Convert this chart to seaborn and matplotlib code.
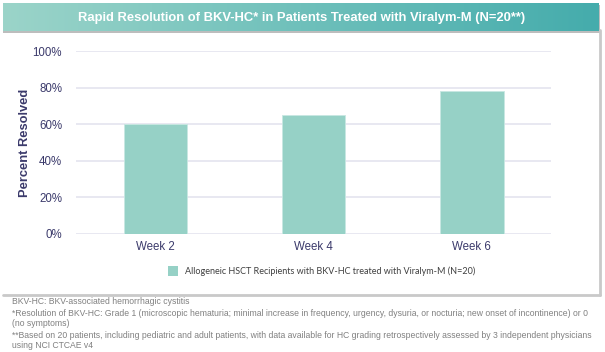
import numpy as np
import pandas as pd
import matplotlib.pyplot as plt
import matplotlib.colors as mcolors
from matplotlib.patches import Rectangle
import seaborn as sns

weeks = ["Week 2", "Week 4", "Week 6"]
pct_resolved = [0.60, 0.65, 0.78]
y_ticks = [0, 0.2, 0.4, 0.6, 0.8, 1.0]
y_tick_labels = ["0%", "20%", "40%", "60%", "80%", "100%"]

title = "Rapid Resolution of BKV-HC* in Patients Treated with Viralym-M (N=20**)"
legend_label = "Allogeneic HSCT Recipients with BKV-HC treated with Viralym-M (N=20)"
footnotes = [
    "BKV-HC: BKV-associated hemorrhagic cystitis",
    "*Resolution of BKV-HC: Grade 1 (microscopic hematuria; minimal increase in frequency, urgency, dysuria, or nocturia; new onset of incontinence) or 0",
    "(no symptoms)",
    "**Based on 20 patients, including pediatric and adult patients, with data available for HC grading retrospectively assessed by 3 independent physicians",
    "using NCI CTCAE v4",
]

bar_color = "#96d1c6"
text_color = "#3b3a6b"

sns.set_theme(style="white")
plt.rcParams["font.family"] = ["Liberation Sans", "DejaVu Sans"]

df = pd.DataFrame({"week": weeks, "pct": pct_resolved})

W, H = 605, 352
fig = plt.figure(figsize=(W / 100, H / 100), dpi=100)

# frame around the chart (shadow on right / bottom)
frame = fig.add_axes([0, 0, 1, 1], zorder=-5)
frame.axis("off")
frame.plot([3, 600], [295, 295], color="#c9c9c9", lw=2)
frame.plot([600, 600], [30, 295], color="#c9c9c9", lw=2)

# title banner with gradient
frame.add_patch(Rectangle((3, 5), 597, 28, color="#bdbdbd", lw=0))
cmap = mcolors.LinearSegmentedColormap.from_list("banner", ["#9bd4c9", "#6fc0bb", "#45acac"])
grad = np.linspace(0, 1, 256).reshape(1, -1)
frame.imshow(grad, cmap=cmap, aspect="auto", extent=[3, 599, 31, 3], zorder=2)
frame.set_xlim(0, W)
frame.set_ylim(H, 0)
frame.text(302, 17.5, title, color="white", fontsize=9.4, fontweight="bold",
           ha="center", va="center", zorder=3)

# main bar chart
ax = fig.add_axes([76 / W, 1 - 234 / H, 475 / W, 183 / H])
sns.barplot(data=df, x="week", y="pct", color=bar_color, saturation=1, width=0.4,
            edgecolor="#c8e8e2", linewidth=0.6, ax=ax, zorder=3)
ax.set_ylim(0, 1.0)
ax.set_xlim(-0.5, 2.5)
ax.set_yticks(y_ticks)
ax.set_yticklabels(y_tick_labels)
ax.yaxis.grid(True, color="#e4e4ef", lw=1.2, zorder=0)
ax.set_axisbelow(True)
for s in ax.spines.values():
    s.set_visible(False)
ax.tick_params(axis="both", length=0, labelsize=8.3, labelcolor=text_color)
ax.tick_params(axis="y", pad=10)
ax.tick_params(axis="x", pad=5)
ax.set_xlabel("")
ax.set_ylabel("Percent Resolved", fontsize=9.3, fontweight="bold", color=text_color)
ax.yaxis.set_label_coords(-45 / 475, 0.5)

# legend
frame.add_patch(Rectangle((168, 266), 10, 10, color=bar_color, lw=0))
frame.text(185, 271.5, legend_label, fontsize=6.5, color="#404040", va="center",
           family=["Lato", "DejaVu Sans"])

# footnotes
ys = [302, 313, 324, 335, 346]
for y, line in zip(ys, footnotes):
    frame.text(12, y, line, fontsize=6.2, color="#808080", va="center",
               family=["Liberation Sans Narrow", "Liberation Sans"])

fig.savefig("out.png", dpi=100)
